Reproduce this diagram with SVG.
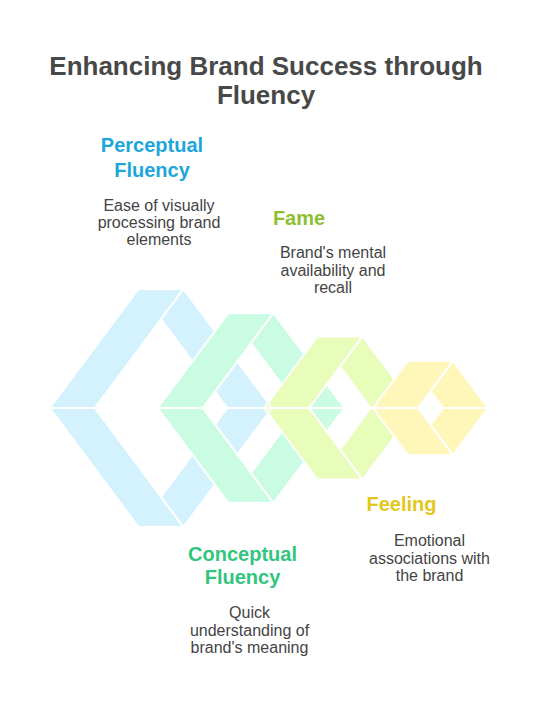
<svg xmlns="http://www.w3.org/2000/svg" width="540" height="708" viewBox="0 0 540 708">
  <style>
    .p{stroke:#ffffff;stroke-width:2;stroke-linejoin:miter}
    .cut{fill:none;stroke:#ffffff;stroke-width:2}
    .blue{fill:#D4F2FD}
    .green{fill:#C9FCE3}
    .lime{fill:#E9FDBB}
    .yellow{fill:#FFF7BA}
    .title{font-family:"Liberation Sans",Arial,sans-serif;font-weight:bold;font-size:26px;fill:#484848;text-anchor:middle}
    .head{font-family:"Liberation Sans",Arial,sans-serif;font-weight:bold;font-size:20px;text-anchor:middle}
    .desc{font-family:"Liberation Sans",Arial,sans-serif;font-size:16px;fill:#444444;text-anchor:middle}
  </style>
  <rect width="540" height="708" fill="#ffffff"/>
  <text class="title" x="266" y="75">Enhancing Brand Success through</text>
  <text class="title" x="266" y="104">Fluency</text>

  <g id="ring-perceptual">
    <polygon class="p blue" points="49.8,408 138.5,289 183.5,289 94.8,408"/>
    <polygon class="p blue" points="183.5,289 272.2,408 227.2,408 161,319.2"/>
    <polygon class="p blue" points="49.8,408 138.5,527 183.5,527 94.8,408"/>
    <polygon class="p blue" points="183.5,527 272.2,408 227.2,408 161,496.8"/>
  </g>
  <g id="ring-conceptual">
    <polygon class="p green" points="157.7,408 228.5,313 273.5,313 202.7,408"/>
    <polygon class="p green" points="273.5,313 344.3,408 299.3,408 251,343.2"/>
    <polygon class="p green" points="157.7,408 228.5,503 273.5,503 202.7,408"/>
    <polygon class="p green" points="273.5,503 344.3,408 299.3,408 251,472.8"/>
  </g>
  <g id="ring-fame">
    <polygon class="p lime" points="264.2,408 317.5,336.5 362.5,336.5 309.2,408"/>
    <polygon class="p lime" points="362.5,336.5 415.8,408 370.8,408 340,366.7"/>
    <polygon class="p lime" points="264.2,408 317.5,479.5 362.5,479.5 309.2,408"/>
    <polygon class="p lime" points="362.5,479.5 415.8,408 370.8,408 340,449.3"/>
    <polyline class="cut" points="268.2,402.6 272.2,408 268.2,413.4"/>
  </g>
  <g id="ring-feeling">
    <polygon class="p yellow" points="373,408 408,361 453,361 418,408"/>
    <polygon class="p yellow" points="453,361 488,408 443,408 430.5,391.2"/>
    <polygon class="p yellow" points="373,408 408,455 453,455 418,408"/>
    <polygon class="p yellow" points="453,455 488,408 443,408 430.5,424.8"/>
  </g>

  <g id="label-perceptual">
    <text class="head" fill="#1DA6DB" x="152" y="152">Perceptual</text>
    <text class="head" fill="#1DA6DB" x="152" y="177">Fluency</text>
    <text class="desc" x="159" y="211">Ease of visually</text>
    <text class="desc" x="159" y="228">processing brand</text>
    <text class="desc" x="159" y="245">elements</text>
  </g>
  <g id="label-fame">
    <text class="head" fill="#8DC031" x="299" y="225">Fame</text>
    <text class="desc" x="333" y="258">Brand's mental</text>
    <text class="desc" x="333" y="275.5">availability and</text>
    <text class="desc" x="333" y="292.5">recall</text>
  </g>
  <g id="label-conceptual">
    <text class="head" fill="#33C57D" x="242.5" y="561">Conceptual</text>
    <text class="head" fill="#33C57D" x="242.5" y="584">Fluency</text>
    <text class="desc" x="249.5" y="618">Quick</text>
    <text class="desc" x="249.5" y="635.5">understanding of</text>
    <text class="desc" x="249.5" y="653">brand's meaning</text>
  </g>
  <g id="label-feeling">
    <text class="head" fill="#E3C71C" x="401.5" y="511">Feeling</text>
    <text class="desc" x="429.5" y="546">Emotional</text>
    <text class="desc" x="429.5" y="563.5">associations with</text>
    <text class="desc" x="429.5" y="581">the brand</text>
  </g>
  <g id="connectors"/>
</svg>
